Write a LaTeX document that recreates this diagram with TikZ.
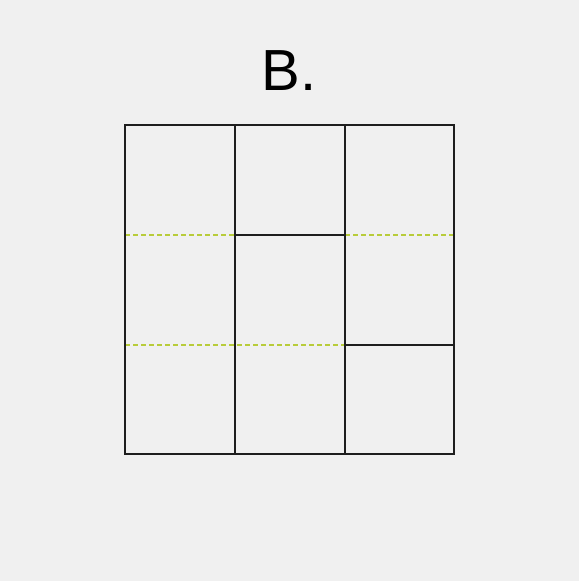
\documentclass[tikz,border=0pt]{standalone}
\usepackage{fontspec}
\setmainfont{Liberation Sans}
\usetikzlibrary{positioning}
\definecolor{bggray}{HTML}{F0F0F0}
\definecolor{foldgreen}{HTML}{B8CC3A}
\definecolor{gridblack}{HTML}{1E1E1E}

\begin{document}
\begin{tikzpicture}[
        % Styles for the grid
        cut/.style={
            draw=gridblack,
            line width=0.75pt,
            line cap=rect
        },
        fold/.style={
            draw=foldgreen,
            line width=0.75pt,
            dash pattern=on 0.05cm off 0.03cm
        },
        foldthin/.style={
            fold,
            line width=0.5pt
        },
        title/.style={
            font=\fontsize{16.5}{20}\selectfont,
            text=black,
            inner sep=0pt
        }
        ]

        \fill[bggray] (0,0) rectangle (5.79,5.81);
        \useasboundingbox (0,0) rectangle (5.79,5.81);

        \node [title] (label) at (2.89,5.10) {B.};

        % corners of the cells
        \coordinate (sw) at (1.25,1.27);
        \coordinate (ne) at (4.54,4.56);

        % fold lines
        \draw[fold] (1.25,3.46) -- (2.35,3.46);
        \draw[fold] (3.45,3.46) -- (4.54,3.46);
        \draw[foldthin] (1.25,2.36) -- (3.45,2.36);

        % cut lines
        \draw[cut] (sw) rectangle (ne);
        \draw[cut] (2.35,1.27) -- (2.35,4.56);
        \draw[cut] (3.45,1.27) -- (3.45,4.56);
        \draw[cut] (2.35,3.46) -- (3.45,3.46);
        \draw[cut] (3.45,2.36) -- (4.54,2.36);
\end{tikzpicture}
\end{document}
